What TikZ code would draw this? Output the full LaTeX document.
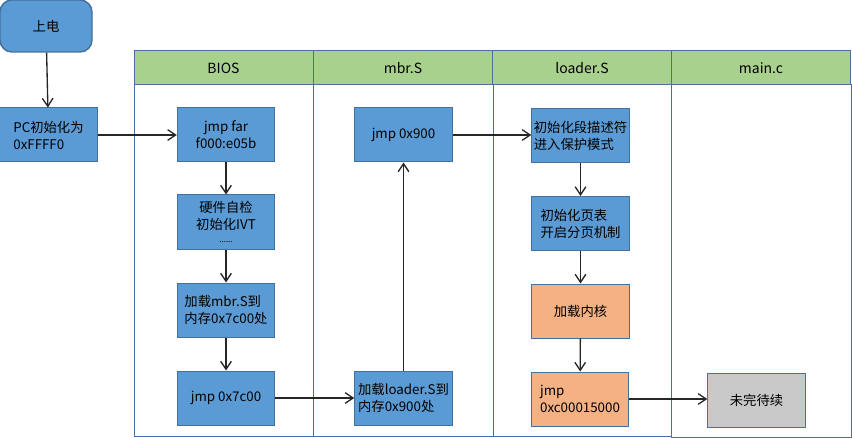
\documentclass[tikz,border=0pt]{standalone}
\usepackage{fontspec}
\setmainfont{Noto Sans CJK SC}
\usetikzlibrary{arrows.meta, positioning}
\definecolor{BoxBlue}{HTML}{5B9BD5}
\definecolor{BoxEdge}{HTML}{41719C}
\definecolor{LaneGreen}{HTML}{A9D18E}
\definecolor{LaneEdge}{HTML}{4A6FA0}
\definecolor{KernOrange}{HTML}{F4B183}
\definecolor{TodoGray}{HTML}{C9C9C9}
\definecolor{ArrowGray}{HTML}{262626}

\begin{document}
\begin{tikzpicture}[x=0.75pt, y=-0.75pt,
  proc/.style={rectangle, fill=BoxBlue, draw=BoxEdge, line width=0.75pt,
    font=\fontsize{10}{12.75}\selectfont, minimum width=73pt, minimum height=40.5pt,
    inner xsep=1pt, inner ysep=2pt, align=center},
  kern/.style={proc, fill=KernOrange},
  todo/.style={proc, fill=TodoGray, draw=LaneEdge},
  power/.style={proc, rounded corners=9pt, minimum width=69pt, minimum height=39pt,
    line width=1.1pt},
  head/.style={rectangle, fill=LaneGreen, draw=LaneEdge, line width=0.75pt,
    font=\fontsize{10.5}{12}\selectfont, minimum width=134.25pt, minimum height=25.5pt,
    inner sep=0pt},
  lane/.style={draw=LaneEdge, line width=0.75pt},
  line/.style={-{Straight Barb[length=6pt,width=8pt]}, line width=1pt, color=ArrowGray}
]
\useasboundingbox (0,0) rectangle (852,438);

% swimlanes
\draw[lane] (134,85) rectangle (313,436);
\draw[lane] (313,85) rectangle (493,436);
\draw[lane] (493,85) rectangle (671,436);
\draw[lane] (671,85) rectangle (851,437);
\node[head] (hbios) at (223.5,68) {BIOS};
\node[head] (hmbr)  at (403,68)   {mbr.S};
\node[head] (hldr)  at (582,68)   {loader.S};
\node[head] (hmain) at (761,68)   {main.c};

% steps
\node[power] (on)     at (46,26)    {上电};
\node[proc, align=left] (pcinit) at (48.5,135) {PC初始化为\\0xFFFF0};
\node[proc] (jmpfar)  at (226,135)  {jmp far\\f000:e05b};
\node[proc] (post)    at (226,222)  {硬件自检\\初始化IVT\\[-3pt]{\fontsize{6}{6}\selectfont ......}};
\node[proc, align=left] (loadmbr) at (226,310) {加载mbr.S到\\内存0x7c00处};
\node[proc] (jmpmbr)  at (226,398)  {jmp 0x7c00};
\node[proc, align=left] (loadldr) at (403.5,398) {加载loader.S到\\内存0x900处};
\node[proc] (jmpldr)  at (403.5,135) {jmp 0x900};
\node[proc, align=left] (gdt)    at (580.5,136)   {初始化段描述符\\进入保护模式};
\node[proc, align=left] (paging) at (580.5,223.5) {初始化页表\\开启分页机制};
\node[kern] (loadkern) at (580.5,311) {加载内核};
\node[kern, align=left] (jmpkern) at (580,399) {jmp\\0xc00015000};
\node[todo] (cont)    at (756.5,400) {未完待续};

\draw[line] (on)      -- (pcinit);
\draw[line] (pcinit)  -- (jmpfar);
\draw[line] (jmpfar)  -- (post);
\draw[line] (post)    -- (loadmbr);
\draw[line] (loadmbr) -- (jmpmbr);
\draw[line] (jmpmbr)  -- (loadldr);
\draw[line] (loadldr) -- (jmpldr);
\draw[line] (jmpldr)  -- (jmpldr -| gdt.west);
\draw[line] (gdt)     -- (paging);
\draw[line] (paging)  -- (loadkern);
\draw[line] (loadkern) -- (jmpkern);
\draw[line] (jmpkern) -- (jmpkern -| cont.west);
\end{tikzpicture}
\end{document}
